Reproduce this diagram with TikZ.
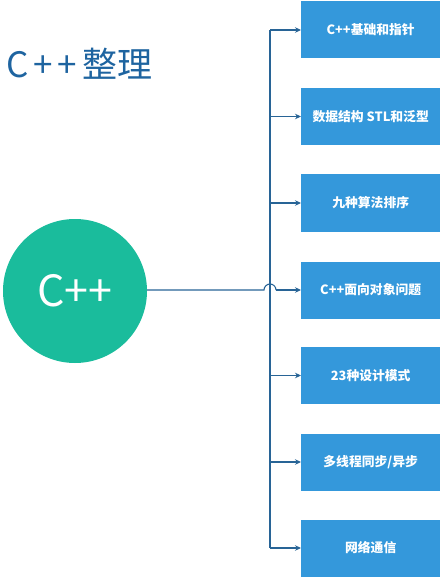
\documentclass[tikz,border=0pt]{standalone}
\usepackage{fontspec}
\setmainfont{Noto Sans CJK SC}
\usetikzlibrary{arrows.meta}
\definecolor{boxblue}{RGB}{52,152,219}
\definecolor{circteal}{RGB}{26,188,156}
\definecolor{linec}{RGB}{40,100,150}
\definecolor{titlec}{RGB}{30,100,160}
\begin{document}
\begin{tikzpicture}[x=1pt,y=-1pt,
  box/.style={fill=boxblue, minimum width=139pt, minimum height=57pt, inner sep=0pt, text=white, font=\fontsize{12.8}{14}\selectfont\bfseries, anchor=west},
  conn/.style={draw=linec, line width=1.1pt},
  arr/.style={conn, -{Stealth[length=6pt,width=5.5pt]}}]
\useasboundingbox (0,0) rectangle (440,577);
\node[anchor=base west, text=titlec, font=\fontsize{35}{40}\selectfont, inner sep=0pt] (title) at (6,78) {C\kern5pt+\kern5pt+\kern5pt整理};
\node[circle, fill=circteal, minimum size=144pt, inner sep=0pt, text=white, font=\fontsize{43}{48}\selectfont] (c) at (75,291) {C++};
\node[box] (b1) at (301,30) {C++基础和指针};
\node[box] (b2) at (301,116.5) {数据结构 STL和泛型};
\node[box] (b3) at (301,203) {九种算法排序};
\node[box] (b4) at (301,290) {C++面向对象问题};
\node[box] (b5) at (301,375.5) {23种设计模式};
\node[box] (b6) at (301,462) {多线程同步/异步};
\node[box] (b7) at (301,548) {网络通信};
\coordinate (top) at (270,30);
\coordinate (bot) at (270,548);
\coordinate (h1) at (264,290);
\coordinate (h2) at (276,290);
\draw[conn] (top) -- (bot);
\foreach \b in {b1,b2,b3,b5,b6,b7}{
  \draw[arr] (\b.west -| top) -- (\b.west);
}
\draw[conn] (c.east |- h1) -- (h1) arc[start angle=180, end angle=0, radius=6pt];
\draw[arr] (h2) -- (b4.west);
\end{tikzpicture}
\end{document}
